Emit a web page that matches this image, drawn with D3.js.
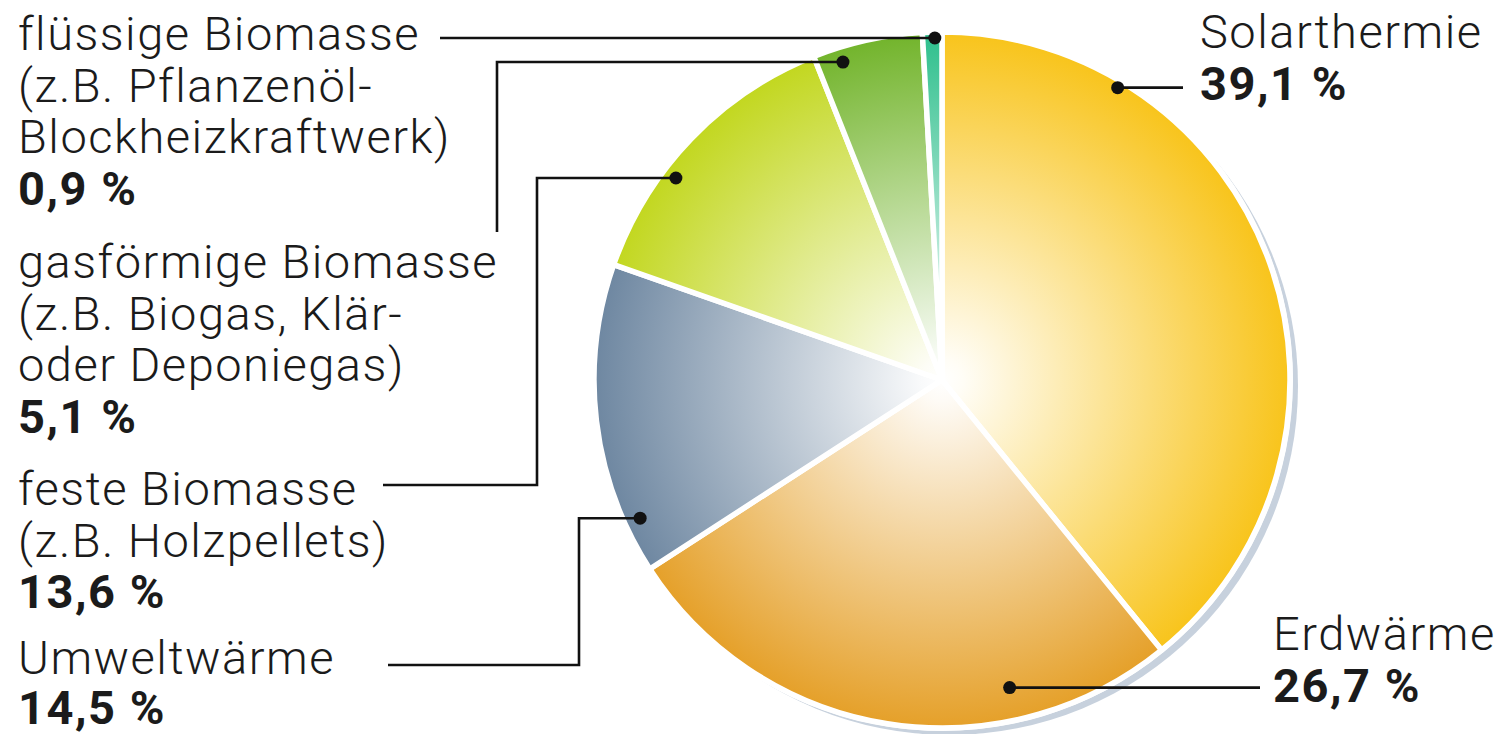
<!DOCTYPE html>
<html>
<head>
<meta charset="utf-8">
<script src="https://cdn.jsdelivr.net/npm/d3@7"></script>
<style>
  html, body { margin: 0; padding: 0; background: #ffffff; }
  svg { display: block; }
  text { font-family: Roboto, "Noto Sans", sans-serif; fill: #1b1b1b; }
</style>
</head>
<body>
<svg id="chart" width="1508" height="734"></svg>
<script>
// ---- data ----
const categories = ["Solarthermie", "Erdwärme", "Umweltwärme", "feste Biomasse", "gasförmige Biomasse", "flüssige Biomasse"];
const values = [39.1, 26.7, 14.5, 13.6, 5.1, 0.9];
const labelLines = [
  ["Solarthermie"],
  ["Erdwärme"],
  ["Umweltwärme"],
  ["feste Biomasse", "(z.B. Holzpellets)"],
  ["gasförmige Biomasse", "(z.B. Biogas, Klär-", "oder Deponiegas)"],
  ["flüssige Biomasse", "(z.B. Pflanzenöl-", "Blockheizkraftwerk)"]
];
const colors = ["#f8c41b", "#e5a029", "#6e87a1", "#c2d71f", "#72b42b", "#2dbf8c"];

// ---- layout (annotation geometry, not data) ----
const cx = 942, cy = 380, R = 348;
const annot = [
  { dotA: 31.0,  dotR: 0.98,  path: [[1183, null]],                         tx: 1200, ty: 48 },
  { dotA: 167.6, dotR: 0.905, path: [[1260, null]],                         tx: 1273, ty: 650 },
  { dotA: 245.4, dotR: 0.954, path: [[579, null], [579, 665], [388, 665]],  tx: 18,   ty: 674 },
  { dotA: 307.2, dotR: 0.96,  path: [[537, null], [537, 485], [383, 485]],  tx: 18,   ty: 505 },
  { dotA: 342.7, dotR: 0.957, path: [[497, null], [497, 232]],              tx: 18,   ty: 278 },
  { dotA: 358.8, dotR: 0.983, path: [[440, null]],                          tx: 18,   ty: 50 }
];
const lineH = 51.5;
const fmt = v => d3.format(".1f")(v).replace(".", ",") + " %";

const svg = d3.select("#chart");
const defs = svg.append("defs");

colors.forEach((c, i) => {
  const g = defs.append("radialGradient")
    .attr("id", "grad" + i)
    .attr("gradientUnits", "userSpaceOnUse")
    .attr("cx", 0).attr("cy", 0).attr("r", R);
  g.append("stop").attr("offset", 0).attr("stop-color", "#ffffff");
  g.append("stop").attr("offset", 0.06).attr("stop-color", d3.interpolateRgb("#ffffff", c)(0.04));
  g.append("stop").attr("offset", 1).attr("stop-color", c);
});

const gPie = svg.append("g").attr("transform", `translate(${cx},${cy})`);

// shadow ring
gPie.append("circle").attr("cx", 7).attr("cy", 6).attr("r", R + 1).attr("fill", "#c7d1dd");
gPie.append("circle").attr("cx", 0).attr("cy", 0).attr("r", R + 3).attr("fill", "#ffffff");

const pie = d3.pie().sort(null).value(d => d)(values);
const arc = d3.arc().innerRadius(0).outerRadius(R);

gPie.selectAll("path.slice")
  .data(pie)
  .join("path")
  .attr("class", "slice")
  .attr("d", arc)
  .attr("fill", (d, i) => `url(#grad${i})`)
  .attr("stroke", "#ffffff")
  .attr("stroke-width", 5.5)
  .attr("stroke-linejoin", "round");

// leader lines & dots
const gAnn = svg.append("g");
annot.forEach((a, i) => {
  const ang = a.dotA * Math.PI / 180;
  const dx = cx + Math.sin(ang) * R * a.dotR;
  const dy = cy - Math.cos(ang) * R * a.dotR;
  const pts = [[dx, dy]].concat(a.path.map(p => [p[0], p[1] === null ? dy : p[1]]));
  gAnn.append("path")
    .attr("d", d3.line()(pts))
    .attr("fill", "none")
    .attr("stroke", "#111")
    .attr("stroke-width", 2.6);
  gAnn.append("circle").attr("cx", dx).attr("cy", dy).attr("r", 6.5).attr("fill", "#111");
});

// labels
const gLab = svg.append("g");
categories.forEach((cat, i) => {
  const a = annot[i];
  const lines = labelLines[i];
  const t = gLab.append("text")
    .attr("x", a.tx).attr("y", a.ty)
    .style("font-size", "47px")
    .style("letter-spacing", "1.5px");
  lines.forEach((ln, j) => {
    t.append("tspan").attr("x", a.tx).attr("y", a.ty + j * lineH)
      .style("font-weight", 300).text(ln);
  });
  t.append("tspan").attr("x", a.tx).attr("y", a.ty + lines.length * (i === 2 ? 50 : lineH))
    .style("font-weight", 700).text(fmt(values[i]));
});
</script>
</body>
</html>
